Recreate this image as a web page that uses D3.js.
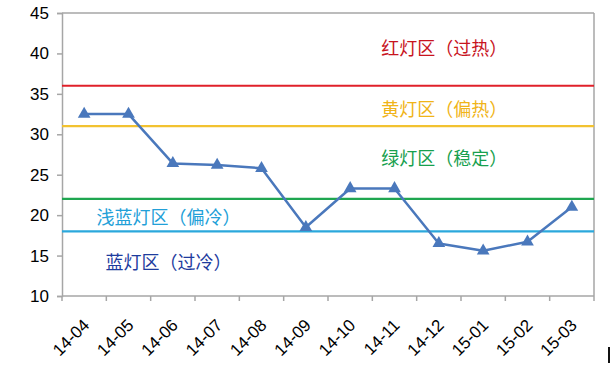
<!DOCTYPE html>
<html>
<head>
<meta charset="utf-8">
<script src="https://cdn.jsdelivr.net/npm/d3@7"></script>
<style>
  body { margin: 0; background: #fff; }
  svg { display: block; font-family: "Liberation Sans", Arial, sans-serif; }
  .zone { font-family: "Noto Sans CJK SC", sans-serif; font-size: 18px; }
</style>
</head>
<body>
<svg id="chart" width="611" height="370"></svg>
<script>
// months and index values
var months = ['14-04', '14-05', '14-06', '14-07', '14-08', '14-09',
              '14-10', '14-11', '14-12', '15-01', '15-02', '15-03'];
var values = [32.5, 32.5, 26.4, 26.2, 25.8, 18.5, 23.3, 23.3, 16.5, 15.6, 16.7, 21.0];
var yTicks = [10, 15, 20, 25, 30, 35, 40, 45];

// threshold lines
var thresholds = [
  {v: 36, color: '#E0202A'},
  {v: 31, color: '#F2C230'},
  {v: 22, color: '#1FA650'},
  {v: 18, color: '#2BA8DC'}
];

// zone labels (v = vertical position in data units, col = left edge in bands)
var zones = [
  {text: '红灯区（过热）', v: 40.6, col: 7.2, color: '#C8141E'},
  {text: '黄灯区（偏热）', v: 33.05, col: 7.2, color: '#F0B418'},
  {text: '绿灯区（稳定）', v: 27.0, col: 7.2, color: '#17A04E'},
  {text: '浅蓝灯区（偏冷）', v: 19.65, col: 0.78, color: '#22A0D8'},
  {text: '蓝灯区（过冷）', v: 14.1, col: 0.98, color: '#1E3C9E'}
];

var svg = d3.select('#chart');
var m = {l: 62, r: 17, t: 13, b: 74};
var W = 611, H = 370;

var x = d3.scaleBand().domain(months).range([m.l, W - m.r]);
var y = d3.scaleLinear().domain([10, 45]).range([H - m.b, m.t]);

var axisColor = '#A6A6A6';

// frame: top and right borders
svg.append('line').attr('x1', m.l).attr('x2', W - m.r).attr('y1', m.t).attr('y2', m.t)
  .attr('stroke', axisColor).attr('stroke-width', 1.5);
svg.append('line').attr('x1', W - m.r).attr('x2', W - m.r).attr('y1', m.t).attr('y2', H - m.b)
  .attr('stroke', axisColor).attr('stroke-width', 1.5);

// y axis
var yAxis = svg.append('g').attr('transform', 'translate(' + m.l + ',0)')
  .call(d3.axisLeft(y).tickValues(yTicks).tickSize(5).tickPadding(8));
yAxis.selectAll('path, line').attr('stroke', axisColor).attr('stroke-width', 1.5);
yAxis.selectAll('text').attr('font-size', 17).attr('fill', '#000')
  .attr('font-family', '"Liberation Sans", Arial, sans-serif');

// x axis: ticks at category boundaries
var xAxisG = svg.append('g').attr('transform', 'translate(0,' + (H - m.b) + ')');
xAxisG.append('line').attr('x1', m.l).attr('x2', W - m.r)
  .attr('stroke', axisColor).attr('stroke-width', 1.5);
var bounds = months.map(function(d) { return x(d); }).concat([x(months[months.length - 1]) + x.bandwidth()]);
xAxisG.selectAll('line.tk').data(bounds).enter().append('line').attr('class', 'tk')
  .attr('x1', function(d) { return d; }).attr('x2', function(d) { return d; })
  .attr('y1', 0).attr('y2', 5).attr('stroke', axisColor).attr('stroke-width', 1.5);
xAxisG.selectAll('text').data(months).enter().append('text')
  .attr('transform', function(d) {
    return 'translate(' + (x(d) + x.bandwidth() / 2 + 2) + ',26) rotate(-45)';
  })
  .attr('text-anchor', 'end').attr('dy', '0.35em')
  .attr('font-size', 17).attr('fill', '#000')
  .text(function(d) { return d; });

// threshold lines
svg.selectAll('line.th').data(thresholds).enter().append('line').attr('class', 'th')
  .attr('x1', m.l).attr('x2', W - m.r)
  .attr('y1', function(d) { return y(d.v); }).attr('y2', function(d) { return y(d.v); })
  .attr('stroke', function(d) { return d.color; }).attr('stroke-width', 2.2);

// zone labels
svg.selectAll('text.zone').data(zones).enter().append('text').attr('class', 'zone')
  .attr('x', function(d) { return m.l + d.col * x.bandwidth(); })
  .attr('y', function(d) { return y(d.v); })
  .attr('text-anchor', 'start').attr('dy', '0.35em')
  .attr('fill', function(d) { return d.color; })
  .text(function(d) { return d.text; });

// series line
var cx = function(d, i) { return x(months[i]) + x.bandwidth() / 2; };
var line = d3.line().x(cx).y(function(d) { return y(d); });
svg.append('path').datum(values).attr('d', line)
  .attr('fill', 'none').attr('stroke', '#4A78BC').attr('stroke-width', 2.5)
  .attr('stroke-linejoin', 'round');

// triangle markers
var tri = d3.symbol().type(d3.symbolTriangle).size(70);
svg.selectAll('path.mk').data(values).enter().append('path').attr('class', 'mk')
  .attr('d', tri)
  .attr('transform', function(d, i) { return 'translate(' + cx(d, i) + ',' + y(d) + ')'; })
  .attr('fill', '#4A78BC');

// small dark mark at the bottom-right edge of the picture
svg.append('rect').attr('x', 608).attr('y', 347).attr('width', 2).attr('height', 16).attr('fill', '#111');
</script>
</body>
</html>
